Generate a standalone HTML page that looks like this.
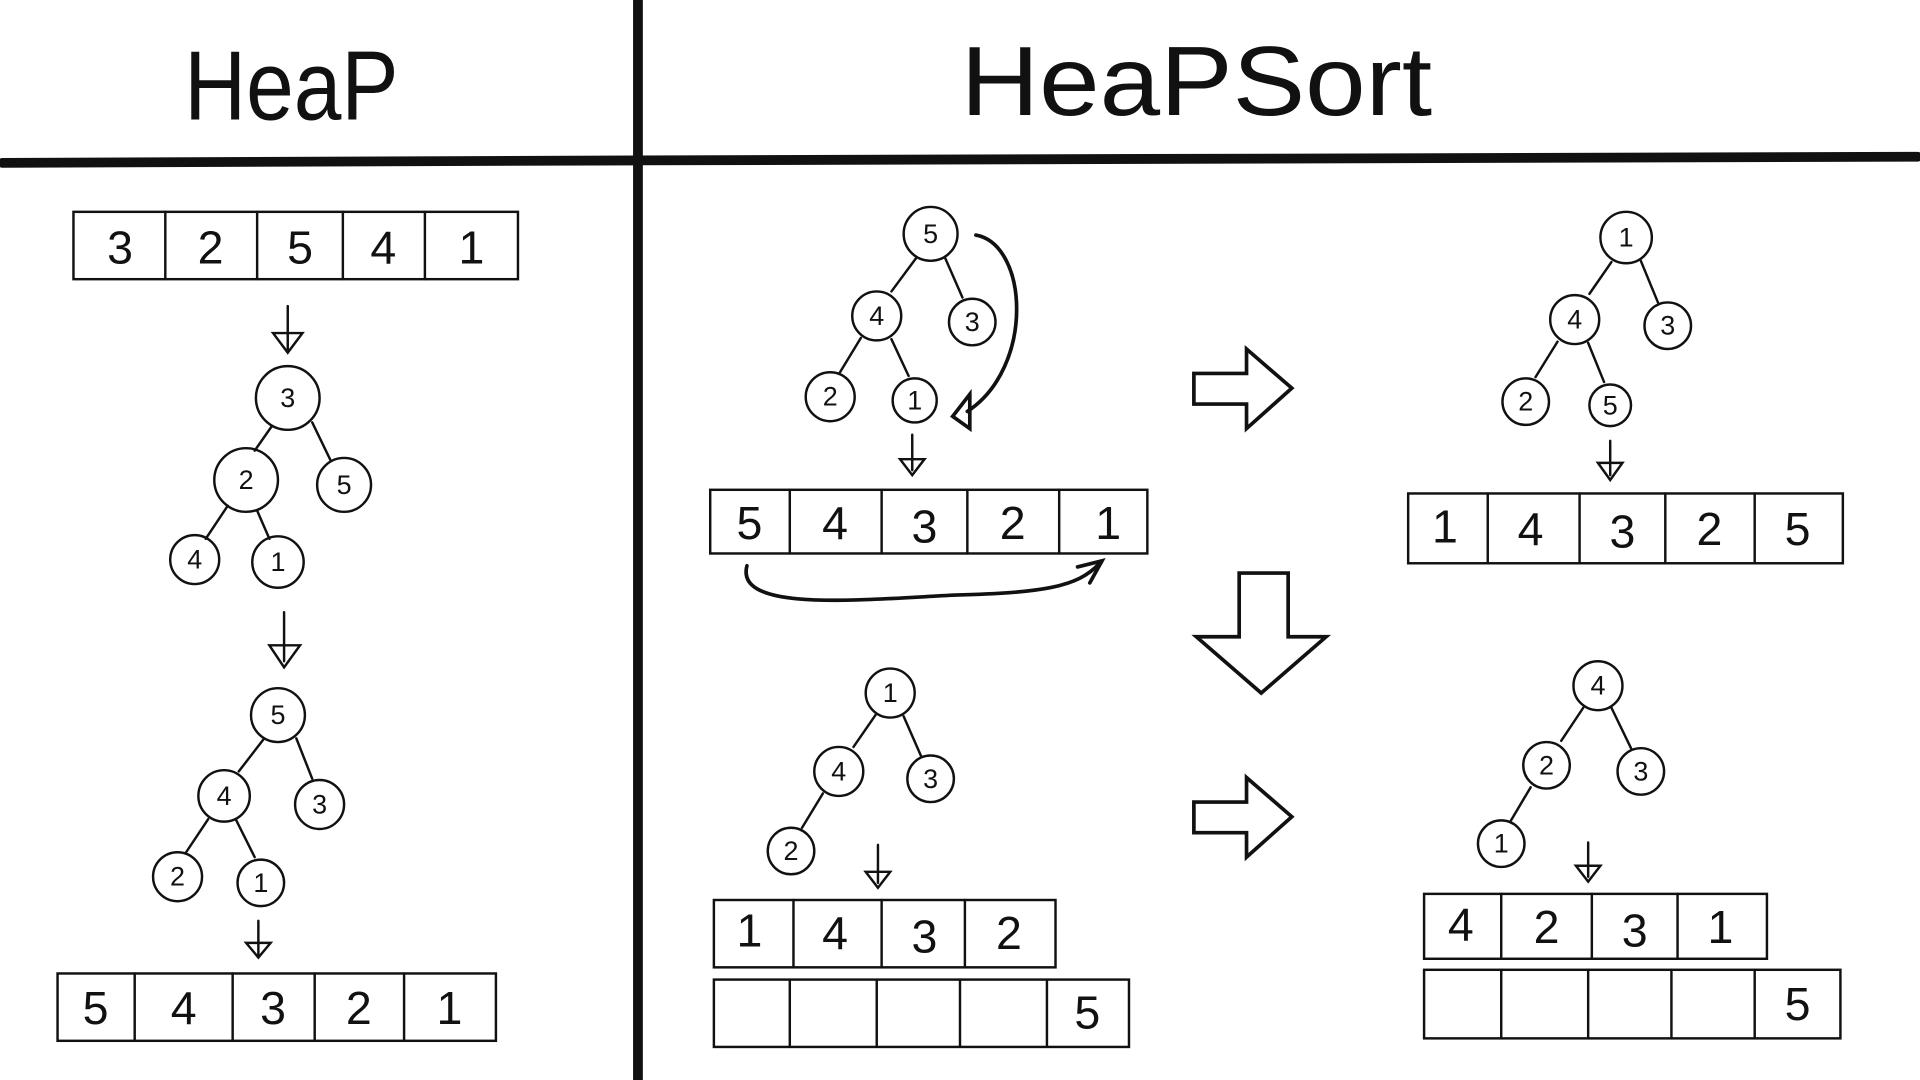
<!DOCTYPE html>
<html><head><meta charset="utf-8"><style>
html,body{margin:0;padding:0;background:#fff;}
svg{display:block;}
text{font-family:"Liberation Sans",sans-serif;fill:#111;text-anchor:middle;dominant-baseline:central;}
.n{font-size:22px;}
.c{font-size:38px;font-family:"Liberation Sans",sans-serif;}
.t{font-size:80px;font-family:"Liberation Sans",sans-serif;font-weight:normal;}
</style></head><body>
<svg width="1920" height="1080" viewBox="0 0 1568 882" xmlns="http://www.w3.org/2000/svg">
<g stroke="#111" fill="none" stroke-linecap="round">
<line x1="521" y1="0" x2="521" y2="882" stroke-width="8"/>
<line x1="2" y1="133" x2="521" y2="131" stroke-width="8"/>
<line x1="521" y1="131" x2="1566" y2="128" stroke-width="8"/>

<g stroke-width="2">
<rect x="60" y="173" width="363" height="55"/>
<line x1="135" y1="173" x2="135" y2="228"/><line x1="210" y1="173" x2="210" y2="228"/><line x1="280" y1="173" x2="280" y2="228"/><line x1="347" y1="173" x2="347" y2="228"/>
<path d="M235 250 V285 M223 272 L235 288 L247 272 Z"/>
<line x1="222" y1="348" x2="208" y2="368"/><line x1="255" y1="345" x2="270" y2="376"/>
<line x1="186" y1="413" x2="168" y2="440"/><line x1="210" y1="417" x2="220" y2="440"/>
<circle cx="235" cy="325" r="26"/><circle cx="201" cy="392" r="26"/><circle cx="281" cy="396" r="22"/><circle cx="159" cy="457" r="20"/><circle cx="227" cy="459" r="21"/>
<path d="M232 500 V540 M220 527 L232 545 L245 527 Z"/>
<line x1="215" y1="604" x2="195" y2="630"/><line x1="242" y1="603" x2="255" y2="636"/>
<line x1="170" y1="669" x2="152" y2="696"/><line x1="193" y1="670" x2="208" y2="700"/>
<circle cx="227" cy="584" r="22"/><circle cx="183" cy="650" r="21"/><circle cx="261" cy="657" r="20"/><circle cx="145" cy="716" r="20"/><circle cx="213" cy="721" r="19"/>
<path d="M211 752 V780 M201 770 L211 782 L221 770 Z"/>
<rect x="47" y="795" width="358" height="55"/>
<line x1="110" y1="795" x2="110" y2="850"/><line x1="190" y1="795" x2="190" y2="850"/><line x1="257" y1="795" x2="257" y2="850"/><line x1="330" y1="795" x2="330" y2="850"/>

<line x1="748" y1="211" x2="728" y2="238"/><line x1="772" y1="211" x2="786" y2="243"/>
<line x1="703" y1="276" x2="686" y2="304"/><line x1="728" y1="277" x2="742" y2="307"/>
<circle cx="760" cy="191" r="22"/><circle cx="716" cy="258" r="20"/><circle cx="794" cy="263" r="19"/><circle cx="678" cy="324" r="20"/><circle cx="747" cy="327" r="18"/>
<path d="M797 192 C840 200 845 300 790 336" stroke-width="3"/>
<path d="M778 340 L792 322 L792 350 Z" stroke-width="3"/>
<path d="M745 355 V384 M735 375 L745 388 L755 375 Z"/>
<rect x="580" y="400" width="357" height="52"/>
<line x1="645" y1="400" x2="645" y2="452"/><line x1="720" y1="400" x2="720" y2="452"/><line x1="790" y1="400" x2="790" y2="452"/><line x1="865" y1="400" x2="865" y2="452"/>
<path d="M610 462 C600 500 700 490 780 486 C850 484 880 480 898 460" stroke-width="3"/>
<path d="M880 463 L900 458 L890 476" stroke-width="3"/>
<path d="M975 305 H1018 V285 L1055 317 L1018 350 V330 H975 Z" stroke-width="3"/>
<path d="M975 655 H1018 V635 L1055 667 L1018 700 V680 H975 Z" stroke-width="3"/>
<path d="M1012 468 H1052 V520 H1083 L1030 566 L977 520 H1012 Z" stroke-width="3"/>
<line x1="1316" y1="214" x2="1298" y2="240"/><line x1="1340" y1="213" x2="1354" y2="247"/>
<line x1="1272" y1="279" x2="1254" y2="308"/><line x1="1297" y1="280" x2="1310" y2="312"/>
<circle cx="1328" cy="194" r="21"/><circle cx="1286" cy="261" r="20"/><circle cx="1362" cy="266" r="19"/><circle cx="1246" cy="328" r="19"/><circle cx="1315" cy="331" r="17"/>
<path d="M1315 360 V388 M1305 378 L1315 392 L1325 378 Z"/>
<rect x="1150" y="403" width="355" height="57"/>
<line x1="1215" y1="403" x2="1215" y2="460"/><line x1="1290" y1="403" x2="1290" y2="460"/><line x1="1360" y1="403" x2="1360" y2="460"/><line x1="1433" y1="403" x2="1433" y2="460"/>
<line x1="715" y1="584" x2="697" y2="610"/><line x1="738" y1="585" x2="752" y2="617"/>
<line x1="672" y1="648" x2="655" y2="676"/>
<circle cx="727" cy="566" r="20"/><circle cx="685" cy="630" r="20"/><circle cx="760" cy="636" r="19"/><circle cx="646" cy="695" r="19"/>
<path d="M717 690 V721 M707 712 L717 725 L727 712 Z"/>
<rect x="583" y="735" width="279" height="55"/>
<line x1="648" y1="735" x2="648" y2="790"/><line x1="720" y1="735" x2="720" y2="790"/><line x1="788" y1="735" x2="788" y2="790"/>
<rect x="583" y="800" width="339" height="55"/>
<line x1="645" y1="800" x2="645" y2="855"/><line x1="716" y1="800" x2="716" y2="855"/><line x1="784" y1="800" x2="784" y2="855"/><line x1="855" y1="800" x2="855" y2="855"/>
<line x1="1293" y1="578" x2="1275" y2="605"/><line x1="1316" y1="578" x2="1332" y2="611"/>
<line x1="1250" y1="643" x2="1234" y2="670"/>
<circle cx="1305" cy="560" r="20"/><circle cx="1263" cy="625" r="19"/><circle cx="1340" cy="630" r="19"/><circle cx="1226" cy="689" r="19"/>
<path d="M1297 688 V716 M1287 707 L1297 720 L1307 707 Z"/>
<rect x="1163" y="730" width="280" height="53"/>
<line x1="1226" y1="730" x2="1226" y2="783"/><line x1="1300" y1="730" x2="1300" y2="783"/><line x1="1370" y1="730" x2="1370" y2="783"/>
<rect x="1163" y="792" width="340" height="56"/>
<line x1="1226" y1="792" x2="1226" y2="848"/><line x1="1297" y1="792" x2="1297" y2="848"/><line x1="1365" y1="792" x2="1365" y2="848"/><line x1="1433" y1="792" x2="1433" y2="848"/>
</g>
</g>

<text class="t" x="238" y="70" textLength="175" lengthAdjust="spacingAndGlyphs">HeaP</text>
<text class="t" x="977" y="66" textLength="385" lengthAdjust="spacingAndGlyphs">HeaPSort</text>

<text class="c" x="98" y="202">3</text><text class="c" x="172" y="202">2</text><text class="c" x="245" y="202">5</text><text class="c" x="313" y="202">4</text><text class="c" x="385" y="202">1</text>
<text class="n" x="235" y="325">3</text><text class="n" x="201" y="392">2</text><text class="n" x="281" y="396">5</text><text class="n" x="159" y="457">4</text><text class="n" x="227" y="459">1</text>
<text class="n" x="227" y="584">5</text><text class="n" x="183" y="650">4</text><text class="n" x="261" y="657">3</text><text class="n" x="145" y="716">2</text><text class="n" x="213" y="721">1</text>
<text class="c" x="78" y="823">5</text><text class="c" x="150" y="823">4</text><text class="c" x="223" y="823">3</text><text class="c" x="293" y="823">2</text><text class="c" x="367" y="823">1</text>

<text class="n" x="760" y="191">5</text><text class="n" x="716" y="258">4</text><text class="n" x="794" y="263">3</text><text class="n" x="678" y="324">2</text><text class="n" x="747" y="327">1</text>
<text class="c" x="612" y="427">5</text><text class="c" x="682" y="427">4</text><text class="c" x="755" y="430">3</text><text class="c" x="827" y="427">2</text><text class="c" x="905" y="427">1</text>

<text class="n" x="1328" y="194">1</text><text class="n" x="1286" y="261">4</text><text class="n" x="1362" y="266">3</text><text class="n" x="1246" y="328">2</text><text class="n" x="1315" y="331">5</text>
<text class="c" x="1180" y="430">1</text><text class="c" x="1250" y="432">4</text><text class="c" x="1325" y="434">3</text><text class="c" x="1396" y="432">2</text><text class="c" x="1468" y="432">5</text>

<text class="n" x="727" y="566">1</text><text class="n" x="685" y="630">4</text><text class="n" x="760" y="636">3</text><text class="n" x="646" y="695">2</text>
<text class="c" x="612" y="760">1</text><text class="c" x="682" y="762">4</text><text class="c" x="755" y="765">3</text><text class="c" x="824" y="762">2</text>
<text class="c" x="888" y="827">5</text>

<text class="n" x="1305" y="560">4</text><text class="n" x="1263" y="625">2</text><text class="n" x="1340" y="630">3</text><text class="n" x="1226" y="689">1</text>
<text class="c" x="1193" y="755">4</text><text class="c" x="1263" y="757">2</text><text class="c" x="1335" y="760">3</text><text class="c" x="1405" y="757">1</text>
<text class="c" x="1468" y="820">5</text>
</svg>
</body></html>
